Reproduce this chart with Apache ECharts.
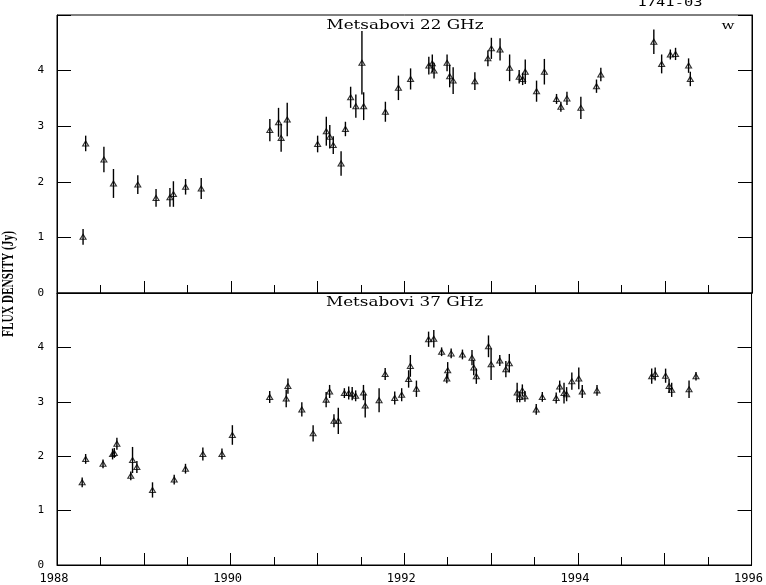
<!DOCTYPE html>
<html><head><meta charset="utf-8">
<script src="https://cdn.jsdelivr.net/npm/echarts@6/dist/echarts.min.js"></script>
<style>html,body{margin:0;padding:0;background:#fff}#c{width:766px;height:585px}</style>
</head><body><div id="c"></div>
<script>
// ---- Data: Metsahovi 22 GHz ----
const years22 = [
  1988.30, 1988.33, 1988.54, 1988.65, 1988.93, 1989.14, 1989.30, 1989.34, 1989.48, 1989.66,
  1990.45, 1990.55, 1990.58, 1990.65,
  1991.00, 1991.10, 1991.14, 1991.18, 1991.27, 1991.32, 1991.38, 1991.44, 1991.51, 1991.53,
  1991.78, 1991.93, 1992.07,
  1992.28, 1992.32, 1992.34, 1992.49, 1992.52, 1992.56,
  1992.81, 1992.96, 1993.00, 1993.10,
  1993.21, 1993.32, 1993.36, 1993.39,
  1993.52, 1993.61,
  1993.75, 1993.80, 1993.87,
  1994.03, 1994.21, 1994.26,
  1994.87, 1994.96, 1995.06, 1995.12, 1995.27, 1995.29
];
const flux22 = [
  1.01, 2.69, 2.40, 1.97, 1.95, 1.71, 1.72, 1.78, 1.91, 1.88,
  2.93, 3.07, 2.79, 3.12,
  2.68, 2.91, 2.81, 2.66, 2.33, 2.95, 3.52, 3.36, 4.14, 3.36,
  3.26, 3.69, 3.85,
  4.09, 4.13, 4.00, 4.14, 3.90, 3.82,
  3.81, 4.22, 4.40, 4.38,
  4.05, 3.89, 3.85, 3.98,
  3.63, 3.98,
  3.49, 3.35, 3.50,
  3.33, 3.72, 3.93,
  4.52, 4.12, 4.29, 4.30, 4.09, 3.85
];
const err22 = [
  0.14, 0.14, 0.23, 0.26, 0.17, 0.16, 0.17, 0.23, 0.14, 0.19,
  0.20, 0.26, 0.25, 0.30,
  0.15, 0.26, 0.21, 0.16, 0.22, 0.13, 0.19, 0.21, 0.57, 0.25,
  0.18, 0.22, 0.19,
  0.16, 0.16, 0.14, 0.15, 0.20, 0.24,
  0.16, 0.14, 0.19, 0.20,
  0.24, 0.12, 0.11, 0.22,
  0.19, 0.23,
  0.09, 0.09, 0.12,
  0.20, 0.12, 0.12,
  0.22, 0.17, 0.09, 0.11, 0.13, 0.13
];
// ---- Data: Metsahovi 37 GHz ----
const years37 = [
  1988.29, 1988.33, 1988.53, 1988.64, 1988.66, 1988.69, 1988.85, 1988.87, 1988.92, 1989.10,
  1989.35, 1989.48, 1989.68, 1989.90, 1990.02,
  1990.45, 1990.64, 1990.66, 1990.82, 1990.95,
  1991.10, 1991.14, 1991.19, 1991.24, 1991.31, 1991.36, 1991.40, 1991.44, 1991.53, 1991.55,
  1991.71, 1991.78, 1991.89, 1991.97, 1992.05, 1992.07, 1992.14,
  1992.28, 1992.34, 1992.43, 1992.49, 1992.50, 1992.54, 1992.67,
  1992.78, 1992.80, 1992.83, 1992.97, 1993.00, 1993.10, 1993.17, 1993.21,
  1993.30, 1993.33, 1993.36, 1993.39, 1993.52, 1993.59,
  1993.75, 1993.79, 1993.84, 1993.87, 1993.93, 1994.01, 1994.05, 1994.22,
  1994.85, 1994.89, 1995.01, 1995.05, 1995.08, 1995.28, 1995.36
];
const flux37 = [
  1.52, 1.95, 1.86, 2.04, 2.06, 2.23, 1.64, 1.93, 1.80, 1.38,
  1.57, 1.77, 2.04, 2.04, 2.39,
  3.09, 3.06, 3.29, 2.86, 2.42,
  3.04, 3.19, 2.65, 2.65, 3.16, 3.16, 3.15, 3.11, 3.17, 2.93,
  3.03, 3.51, 3.07, 3.13, 3.42, 3.66, 3.24,
  4.15, 4.16, 3.92, 3.43, 3.58, 3.89, 3.87,
  3.81, 3.63, 3.47, 4.02, 3.69, 3.76, 3.60, 3.71,
  3.17, 3.09, 3.21, 3.10, 2.86, 3.09,
  3.07, 3.28, 3.16, 3.14, 3.38, 3.43, 3.19, 3.21,
  3.47, 3.51, 3.48, 3.29, 3.22, 3.23, 3.47
];
const err37 = [
  0.09, 0.09, 0.08, 0.10, 0.09, 0.11, 0.08, 0.24, 0.11, 0.14,
  0.09, 0.09, 0.12, 0.10, 0.18,
  0.11, 0.16, 0.14, 0.13, 0.15,
  0.14, 0.12, 0.12, 0.24, 0.09, 0.12, 0.12, 0.10, 0.14, 0.22,
  0.22, 0.11, 0.12, 0.12, 0.16, 0.20, 0.15,
  0.14, 0.16, 0.08, 0.09, 0.15, 0.09, 0.09,
  0.14, 0.14, 0.14, 0.20, 0.29, 0.10, 0.15, 0.17,
  0.18, 0.10, 0.11, 0.10, 0.10, 0.09,
  0.10, 0.11, 0.19, 0.13, 0.16, 0.20, 0.12, 0.10,
  0.14, 0.12, 0.13, 0.13, 0.13, 0.16, 0.08
];
const xTickLabels = ['1988', '1990', '1992', '1994', '1996'];
const yTickLabels = ['0', '1', '2', '3', '4'];
const panelTitles = ['Metsabovi 22 GHz', 'Metsabovi 37 GHz'];
const sourceName = '1741-03';
const cornerMark = 'w';
const yAxisTitle = 'FLUX DENSITY (Jy)';

// ---- helpers ----
const measureCtx = document.createElement('canvas').getContext('2d');
function fitText(text, cx, cy, font, targetW, rotation) {
  measureCtx.font = font;
  const w = measureCtx.measureText(text).width || 1;
  return {
    type: 'text', x: cx, y: cy, rotation: rotation || 0,
    scaleX: targetW / w, scaleY: 1,
    style: { text: text, font: font, fill: '#000', textAlign: 'center', textVerticalAlign: 'middle' }
  };
}
function renderErr(params, api) {
  const x = api.value(0), v = api.value(1), e = api.value(2);
  const p1 = api.coord([x, v - e]), p2 = api.coord([x, v + e]);
  return { type: 'line', shape: { x1: p1[0], y1: p1[1], x2: p2[0], y2: p2[1] },
           style: { stroke: '#000', lineWidth: 1.4 } };
}
const monoFont = '"DejaVu Sans Mono", monospace';

function xAxisFor(gi, showLabels) {
  return {
    type: 'value', gridIndex: gi, min: 1988, max: 1996, interval: 1,
    axisLine: { show: true, onZero: false, lineStyle: { color: '#000', width: 1 } },
    axisTick: { show: true, inside: true, length: 12, lineStyle: { color: '#000', width: 1 } },
    minorTick: { show: true, splitNumber: 2, length: 8, lineStyle: { color: '#000', width: 1 } },
    splitLine: { show: false }, minorSplitLine: { show: false },
    axisLabel: {
      show: showLabels, color: '#000', fontFamily: monoFont, fontSize: 12, margin: 8,
      padding: [0, 6, 0, 0],
      formatter: v => (xTickLabels.indexOf(String(v)) >= 0 ? String(v) : '')
    }
  };
}
function yAxisFor(gi, pos) {
  return {
    type: 'value', gridIndex: gi, position: pos, min: 0, max: 5, interval: 1,
    axisLine: { show: true, onZero: false, lineStyle: { color: '#000', width: 1 } },
    axisTick: { show: true, inside: true, length: 14, lineStyle: { color: '#000', width: 1 } },
    splitLine: { show: false },
    axisLabel: {
      show: pos === 'left', color: '#000', fontFamily: monoFont, fontSize: 11, margin: 13,
      formatter: v => (yTickLabels[v] !== undefined ? yTickLabels[v] : '')
    }
  };
}
function panelSeries(years, flux, err, xi, yi) {
  const d = years.map((y, i) => [y, flux[i], err[i]]);
  return [
    { type: 'custom', xAxisIndex: xi, yAxisIndex: yi, renderItem: renderErr,
      encode: { x: 0, y: [1] }, data: d, z: 2, silent: true },
    { type: 'scatter', xAxisIndex: xi, yAxisIndex: yi, symbol: 'triangle', symbolSize: [6, 5],
      itemStyle: { color: 'rgba(0,0,0,0)', borderColor: '#000', borderWidth: 1.1 },
      data: d.map(p => [p[0], p[1]]), z: 3, silent: true }
  ];
}

const chart = echarts.init(document.getElementById('c'), null, { renderer: 'canvas' });
chart.setOption({
  animation: false,
  backgroundColor: '#fff',
  grid: [
    { left: 57, right: 14, top: 15, height: 278, show: true, borderColor: '#000', borderWidth: 1, backgroundColor: 'transparent' },
    { left: 57, right: 14, top: 293, height: 277, show: true, borderColor: '#000', borderWidth: 1, backgroundColor: 'transparent' }
  ],
  xAxis: [ xAxisFor(0, false), xAxisFor(1, true) ],
  yAxis: [ yAxisFor(0, 'left'), yAxisFor(0, 'right'), yAxisFor(1, 'left'), yAxisFor(1, 'right') ],
  series: [].concat(
    panelSeries(years22, flux22, err22, 0, 0),
    panelSeries(years37, flux37, err37, 1, 2)
  ),
  graphic: [
    fitText(panelTitles[0], 405, 25.5, '12px "DejaVu Serif"', 157),
    fitText(panelTitles[1], 404.5, 303, '12px "DejaVu Serif"', 157),
    fitText(sourceName, 670, 3.5, '10px "DejaVu Sans Mono"', 65),
    fitText(cornerMark, 728, 26, '11px "DejaVu Serif"', 13),
    fitText(yAxisTitle, 9, 284, 'bold 16px "Liberation Serif"', 106, Math.PI / 2)
  ]
});
</script>
</body></html>
